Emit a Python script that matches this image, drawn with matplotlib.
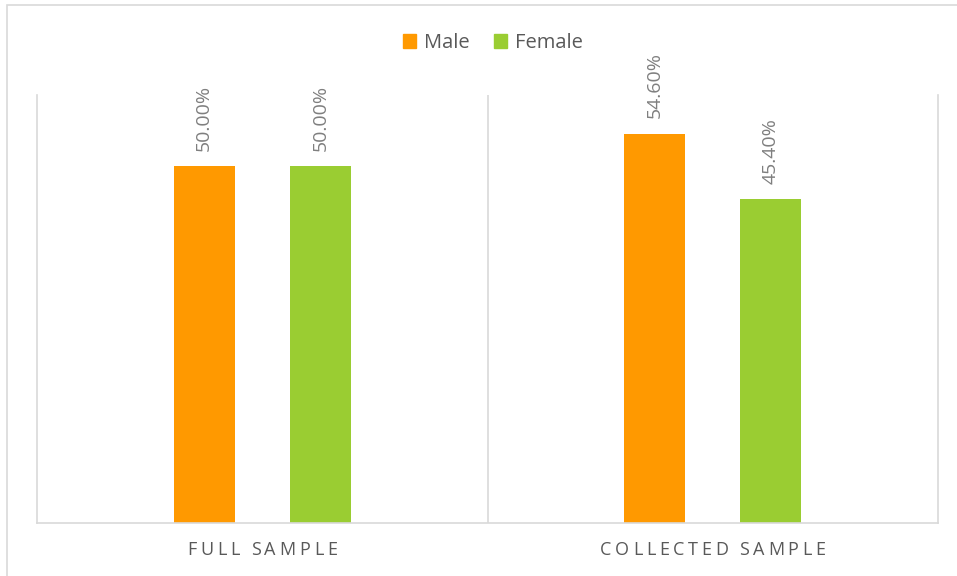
import matplotlib
import matplotlib.pyplot as plt
from matplotlib.patches import Patch, Rectangle
from matplotlib.font_manager import FontProperties

# data
categories = ['FULL SAMPLE', 'COLLECTED SAMPLE']
male = [50.00, 54.60]
female = [50.00, 45.40]
series_names = ['Male', 'Female']

# colours
c_male = '#ff9900'
c_female = '#9acd32'
c_grid = '#d9d9d9'
c_text = '#595959'
c_value = '#7f7f7f'

matplotlib.rcParams['font.family'] = 'Open Sans'

W, H, DPI = 957, 576, 100
fig = plt.figure(figsize=(W / DPI, H / DPI), dpi=DPI)
ax = fig.add_axes([37 / W, 1 - 523 / H, 901 / W, 428 / H])

# outer chart border
fig.patches.append(Rectangle((7 / W, -0.1), 1.1, 1 - 5 / H + 0.1,
                             transform=fig.transFigure, fill=False,
                             edgecolor=c_grid, linewidth=1.2))

x = list(range(len(categories)))
offset = 0.129
width = 0.136

bars_m = ax.bar([i - offset for i in x], male, width, color=c_male, zorder=2)
bars_f = ax.bar([i + offset for i in x], female, width, color=c_female, zorder=2)

for bars, vals in [(bars_m, male), (bars_f, female)]:
    for b, v in zip(bars, vals):
        ax.annotate(f'{v:.2f}%', (b.get_x() + b.get_width() / 2, v),
                    xytext=(0, 11), textcoords='offset points',
                    ha='center', va='bottom', rotation=90,
                    fontsize=14, color=c_value)

ax.set_xlim(-0.5, len(categories) - 0.5)
ax.set_ylim(0, 60)
ax.set_xticks([])
ax.set_yticks([])

for s in ['left', 'right', 'bottom']:
    ax.spines[s].set_color(c_grid)
    ax.spines[s].set_linewidth(1.2)
ax.spines['top'].set_visible(False)
for i in range(len(categories) - 1):
    ax.axvline(i + 0.5, color=c_grid, linewidth=1.2, zorder=1)

# category labels with letter spacing
fs = 13
prop = FontProperties(family='Open Sans', size=fs)
renderer = fig.canvas.get_renderer()
track = 3.7
size_px = fs * DPI / 72
for i, label in enumerate(categories):
    adv = []
    for ch in label:
        if ch == ' ':
            adv.append(0.2 * size_px)
        else:
            adv.append(renderer.get_text_width_height_descent(ch, prop, ismath=False)[0])
    total = sum(adv) + track * (len(label) - 1)
    cx = ax.transData.transform((i, 0))[0]
    left = cx - total / 2
    for ch, a in zip(label, adv):
        if ch != ' ':
            fig.text(left / W, 1 - 550 / H, ch, fontproperties=prop,
                     color=c_text, ha='left', va='center')
        left += a + track

# legend
handles = [Patch(color=c_male), Patch(color=c_female)]
fig.legend(handles, series_names, loc='center', bbox_to_anchor=(493 / W, 1 - 43 / H),
           ncol=2, frameon=False, fontsize=14.5, labelcolor=c_text,
           handlelength=0.65, handleheight=0.65, handletextpad=0.4,
           columnspacing=1.2, borderpad=0)

fig.savefig('out.png', dpi=DPI)
